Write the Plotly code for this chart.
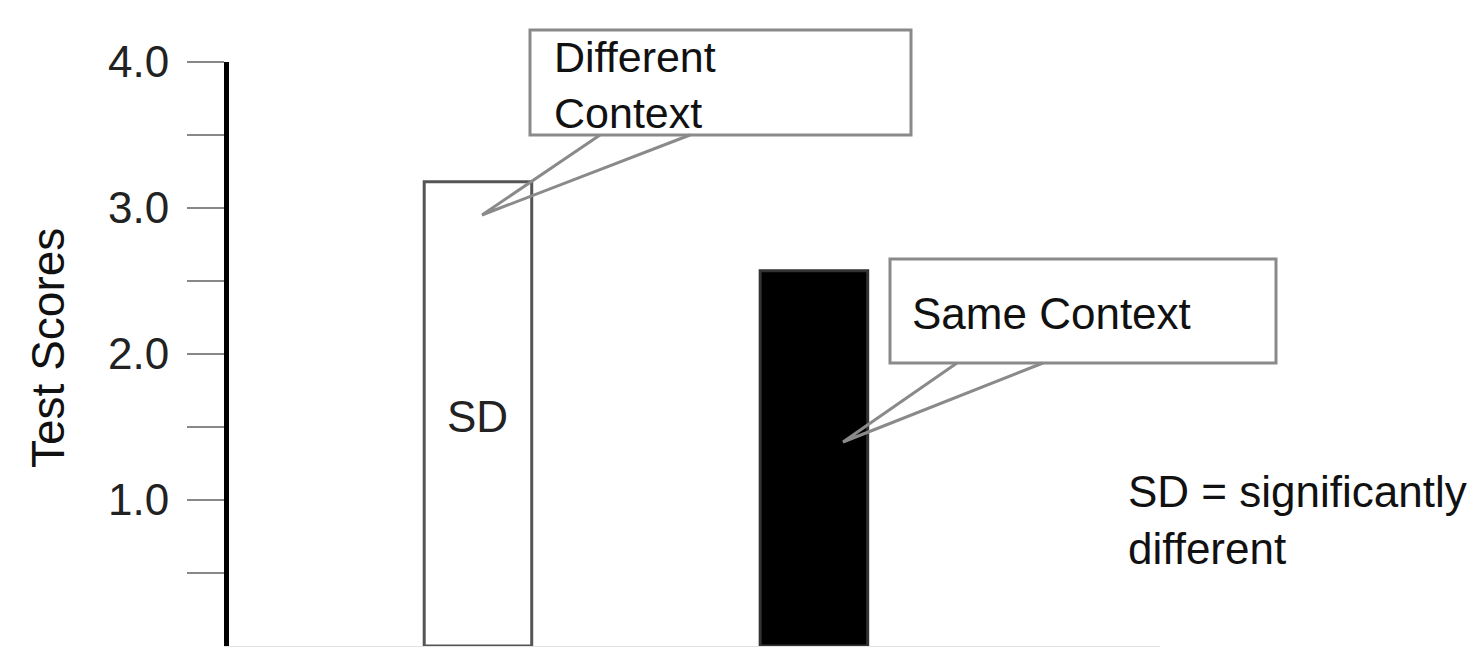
import plotly.graph_objects as go

# ---- data ----
categories = ["Different Context", "Same Context"]
scores = [3.18, 2.57]
bar_fill = ["white", "black"]
bar_line = ["#555555", "#333333"]
y_tickvals = [0.5, 1.0, 1.5, 2.0, 2.5, 3.0, 3.5, 4.0]
y_ticktext = ["", "1.0", "", "2.0", "", "3.0", "", "4.0"]
bar_labels = ["SD", ""]
callout_texts = ["Different<br>Context", "Same Context"]
note_text = "SD = significantly<br>different"

FONT = "Liberation Sans, Arial, sans-serif"
W, H = 1480, 647
L, R, T, B = 229, 1160, 62, 646


def px(x):
    return (x - L) / (R - L)


def py(y):
    return (B - y) / (B - T)


xpos = list(range(len(categories)))

fig = go.Figure()
fig.add_trace(go.Bar(
    x=xpos, y=scores, width=0.32,
    marker=dict(color=bar_fill, line=dict(color=bar_line, width=3)),
    hoverinfo="skip", showlegend=False,
))

# "SD" label inside first bar
fig.add_annotation(x=xpos[0], y=scores[0] * 0.495, xref="x", yref="y",
                   text=bar_labels[0], showarrow=False,
                   font=dict(family=FONT, size=44, color="#222"))

# callout boxes (decorative)
boxes = [(530, 30, 911, 135), (890, 259, 1276, 363)]
wedges = [((600, 135), (482, 215), (690, 135)),
          ((957, 363), (843, 442), (1043, 363))]
for (x0, y0, x1, y1) in boxes:
    fig.add_shape(type="rect", xref="paper", yref="paper",
                  x0=px(x0), x1=px(x1), y0=py(y1), y1=py(y0),
                  line=dict(color="#8a8a8a", width=3), fillcolor="white",
                  layer="above")
for w in wedges:
    path = "M {} {} L {} {} L {} {}".format(
        px(w[0][0]), py(w[0][1]), px(w[1][0]), py(w[1][1]),
        px(w[2][0]), py(w[2][1]))
    fig.add_shape(type="path", xref="paper", yref="paper", path=path,
                  line=dict(color="#8a8a8a", width=3), layer="above")

fig.add_annotation(x=px(552), y=py(85), xref="paper", yref="paper",
                   xanchor="left", yanchor="middle", align="left",
                   text=callout_texts[0], showarrow=False,
                   font=dict(family=FONT, size=43, color="#111"))
fig.add_annotation(x=px(910), y=py(313), xref="paper", yref="paper",
                   xanchor="left", yanchor="middle", align="left",
                   text=callout_texts[1], showarrow=False,
                   font=dict(family=FONT, size=44, color="#111"))
fig.add_annotation(x=px(1126), y=py(520), xref="paper", yref="paper",
                   xanchor="left", yanchor="middle", align="left",
                   text=note_text, showarrow=False,
                   font=dict(family=FONT, size=44, color="#111"))

# y-axis title
fig.add_annotation(x=px(48), y=py(348), xref="paper", yref="paper",
                   xanchor="center", yanchor="middle", textangle=-90,
                   text="Test Scores", showarrow=False,
                   font=dict(family=FONT, size=46, color="#111"))

fig.update_layout(
    width=W, height=H,
    margin=dict(l=L, r=W - R, t=T, b=H - B, pad=0),
    paper_bgcolor="white", plot_bgcolor="white",
    bargap=0,
    xaxis=dict(range=[-0.741, 2.030], showticklabels=False, ticks="",
               showgrid=False, zeroline=False, showline=True,
               linecolor="#e2e2e2", linewidth=1, fixedrange=True),
    yaxis=dict(range=[0, 4.0], tickvals=y_tickvals, ticktext=y_ticktext,
               ticks="outside", ticklen=37, tickwidth=2, tickcolor="#888",
               showgrid=False, zeroline=False, showline=True,
               linecolor="black", linewidth=5, ticklabelstandoff=9,
               tickfont=dict(family=FONT, size=44, color="#222"),
               fixedrange=True),
)

fig.write_html("out.html",
               config={"displayModeBar": False, "staticPlot": True},
               post_script="document.body.style.margin='0';"
                           "document.body.style.padding='0';")
